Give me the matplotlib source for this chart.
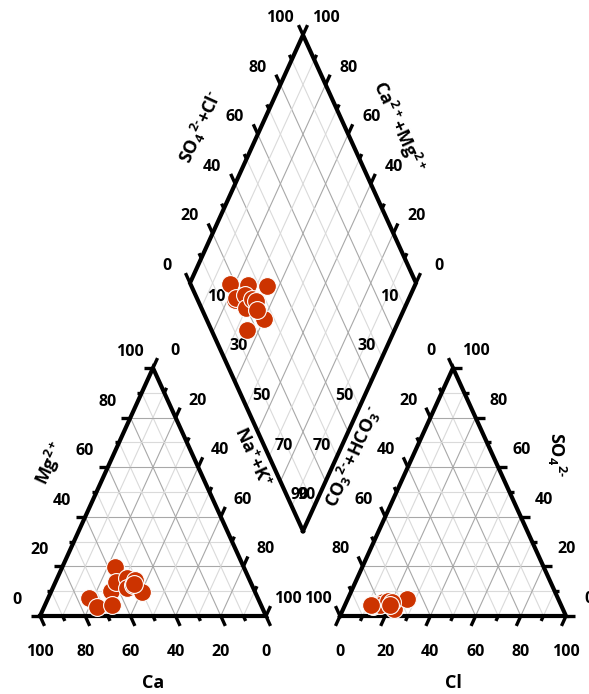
import numpy as np
import matplotlib
matplotlib.use('Agg')
import matplotlib.pyplot as plt

plt.rcParams['font.family'] = 'Open Sans'
plt.rcParams['font.weight'] = 'bold'
plt.rcParams['mathtext.fontset'] = 'custom'
plt.rcParams['mathtext.rm'] = 'Open Sans:bold'
plt.rcParams['mathtext.it'] = 'Open Sans:bold'
plt.rcParams['mathtext.bf'] = 'Open Sans:bold'
plt.rcParams['mathtext.default'] = 'rm'

# milliequivalent percentages per sample
ca = [74.8, 73.2, 57.0, 63.6, 59.5, 65.8, 54.0, 55.9, 50.8, 52.7, 50.2, 52.0]
mg = [7.1, 3.5, 19.6, 10.2, 13.8, 4.4, 15.2, 11.3, 14.5, 12.5, 9.6, 12.8]
cl = [12.5, 12.6, 13.0, 20.0, 16.3, 15.4, 18.3, 22.5, 26.3, 11.3, 20.2, 19.8]
so4 = [5.0, 4.0, 4.5, 5.5, 5.5, 4.5, 6.0, 3.0, 7.0, 4.5, 5.5, 4.5]

tick_vals = list(range(0, 101, 20))
diamond_low_vals = [10, 30, 50, 70, 90]

# layout (pixel units)
S = 226.0
H = 248.0
LT = (40.0, 616.0)
RT = (340.0, 616.0)
DB = (303.0, 531.0)


def cat_xy(c, m):
    n = 100 - c - m
    return LT[0] + (n + m / 2) / 100 * S, LT[1] - m / 100 * H


def an_xy(l, s):
    return RT[0] + (l + s / 2) / 100 * S, RT[1] - s / 100 * H


def dia_xy(cm, sc):
    return DB[0] + (sc - cm) / 100 * S / 2, DB[1] - (cm + sc) / 100 * H


fig = plt.figure(figsize=(5.89, 6.94), dpi=100)
ax = fig.add_axes([0, 0, 1, 1])
ax.set_xlim(0, 589)
ax.set_ylim(694, 0)
ax.axis('off')

light = '#dadada'
dark = '#a8a8a8'


def seg(p, q, **kw):
    ax.plot([p[0], q[0]], [p[1], q[1]], **kw)


# grids
for i in range(1, 10):
    v = i * 10
    col = dark if v % 20 == 0 else light
    kw = dict(color=col, lw=0.8, zorder=1)
    # cation triangle
    seg(cat_xy(v, 0), cat_xy(v, 100 - v), **kw)
    seg(cat_xy(0, v), cat_xy(100 - v, v), **kw)
    seg(cat_xy(100 - v, 0), cat_xy(0, 100 - v), **kw)
    # anion triangle
    seg(an_xy(v, 0), an_xy(v, 100 - v), **kw)
    seg(an_xy(0, v), an_xy(100 - v, v), **kw)
    seg(an_xy(100 - v, 0), an_xy(0, 100 - v), **kw)
    # diamond
    seg(dia_xy(v, 0), dia_xy(v, 100), **kw)
    seg(dia_xy(0, v), dia_xy(100, v), **kw)

# outlines
outline = dict(color='black', lw=3.0, solid_joinstyle='miter', zorder=3)
for pts in ([cat_xy(100, 0), cat_xy(0, 0), cat_xy(0, 100)],
            [an_xy(0, 0), an_xy(100, 0), an_xy(0, 100)],
            [dia_xy(0, 0), dia_xy(100, 0), dia_xy(100, 100), dia_xy(0, 100)]):
    xs = [p[0] for p in pts] + [pts[0][0]]
    ys = [p[1] for p in pts] + [pts[0][1]]
    ax.plot(xs, ys, **outline)

# ticks
tk = dict(color='black', lw=2.4, solid_capstyle='butt', zorder=3)
for v in range(0, 101, 10):
    L = 4 if v % 20 == 0 else 2
    seg(cat_xy(v, 0), cat_xy(v, -L), **tk)
    seg(cat_xy(100 - v, v), cat_xy(100 - v + L, v), **tk)
    seg(cat_xy(0, 100 - v), cat_xy(-L, 100 - v + L), **tk)
    seg(an_xy(v, 0), an_xy(v, -L), **tk)
    seg(an_xy(100 - v, v), an_xy(100 - v + L, v), **tk)
    seg(an_xy(0, 100 - v), an_xy(-L, 100 - v + L), **tk)
    seg(dia_xy(100, v), dia_xy(100 + L, v), **tk)
    seg(dia_xy(v, 100), dia_xy(v, 100 + L), **tk)

# tick labels
lab = dict(textcoords='offset pixels', ha='center', va='center', fontsize=11.5,
           fontweight='bold')
for v in tick_vals:
    ax.annotate(str(v), cat_xy(v, 0), xytext=(0, -36), **lab)
    ax.annotate(str(v), cat_xy(100 - v, v), xytext=(-23, 16), **lab)
    ax.annotate(str(v), cat_xy(0, 100 - v), xytext=(22, 17), **lab)
    ax.annotate(str(v), an_xy(v, 0), xytext=(0, -36), **lab)
    ax.annotate(str(v), an_xy(100 - v, v), xytext=(23, 17), **lab)
    ax.annotate(str(v), an_xy(0, 100 - v), xytext=(-22, 17), **lab)
    ax.annotate(str(v), dia_xy(100, v), xytext=(-23, 17), **lab)
    ax.annotate(str(v), dia_xy(v, 100), xytext=(23, 17), **lab)
for v in diamond_low_vals:
    ax.annotate(str(v), dia_xy(100 - v, 0), xytext=(15, 11), **lab)
    ax.annotate(str(v), dia_xy(0, 100 - v), xytext=(-15, 11), **lab)

# axis titles
tt = dict(ha='center', va='center', fontsize=13, fontweight='bold')
ax.text(153, 683, 'Ca', **tt)
ax.text(453, 683, 'Cl', **tt)
ax.text(50, 463, r'Mg$^{2+}$', rotation=65.5, **tt)
ax.text(252, 457, r'Na$^{+}$+K$^{+}$', rotation=-65.5, **tt)
ax.text(353, 457, r'CO$_{3}$$^{2‐}$+HCO$_{3}$$^{‐}$', rotation=65.5, **tt)
ax.text(557, 455, r'SO$_{4}$$^{2‐}$', rotation=-90, **tt)
ax.text(200, 127, r'SO$_{4}$$^{2‐}$+Cl$^{‐}$', rotation=65.5, **tt)
ax.text(398, 127, r'Ca$^{2+}$+Mg$^{2+}$', rotation=-65.5, **tt)

# samples
ca = np.array(ca)
mg = np.array(mg)
cl = np.array(cl)
so4 = np.array(so4)
cm = ca + mg
sc = cl + so4
mk = dict(s=165, c='#CC3300', edgecolors='white', linewidths=0.8, zorder=5)
ax.scatter(*cat_xy(ca, mg), **mk)
ax.scatter(*an_xy(cl, so4), **mk)
ax.scatter(*dia_xy(cm, sc), **mk)

fig.savefig('out.png', dpi=100)
